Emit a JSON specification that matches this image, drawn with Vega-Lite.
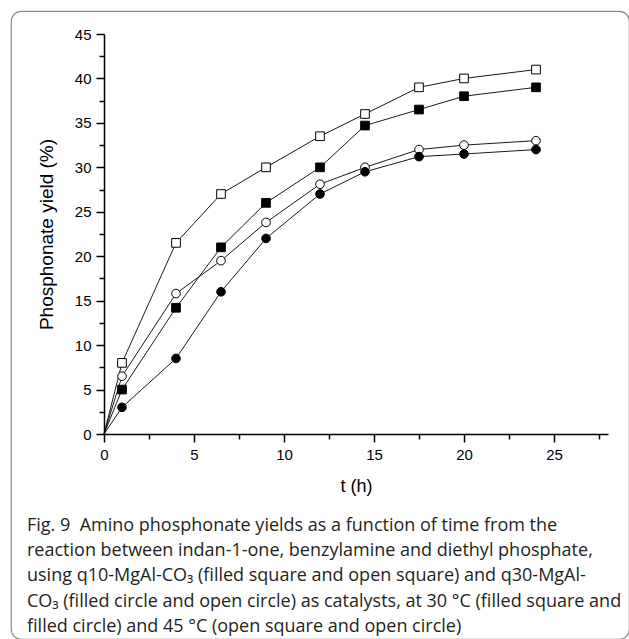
{
  "$schema": "https://vega.github.io/schema/vega-lite/v6.json",
  "autosize": "none",
  "padding": {"left": 11, "top": 11, "right": 0, "bottom": 0},
  "width": 618,
  "height": 628,
  "background": "white",
  "config": {
    "view": {"stroke": "#8c8c8c", "strokeWidth": 1.2, "cornerRadius": 10, "fill": "white"},
    "font": "Liberation Sans",
    "title": {"font": "Open Sans", "fontSize": 18, "fontWeight": "normal", "color": "#231f20", "anchor": "start", "frame": "group", "lineHeight": 25.2, "baseline": "top"}
  },
  "title": {
    "text": [
      "Fig. 9\u00a0\u00a0Amino phosphonate yields as a function of time from the",
      "reaction between indan-1-one, benzylamine and diethyl phosphate,",
      "using q10-MgAl-CO₃ (filled square and open square) and q30-MgAl-",
      "CO₃ (filled circle and open circle) as catalysts, at 30 °C (filled square and",
      "filled circle) and 45 °C (open square and open circle)"
    ],
    "orient": "bottom",
    "offset": -122,
    "dx": 16
  },
  "data": {
    "values": [
      {"t": 0, "y": 0, "s": "A"}, {"t": 1, "y": 8, "s": "A"}, {"t": 4, "y": 21.5, "s": "A"}, {"t": 6.5, "y": 27, "s": "A"}, {"t": 9, "y": 30, "s": "A"}, {"t": 12, "y": 33.5, "s": "A"}, {"t": 14.5, "y": 36, "s": "A"}, {"t": 17.5, "y": 39, "s": "A"}, {"t": 20, "y": 40, "s": "A"}, {"t": 24, "y": 41, "s": "A"},
      {"t": 0, "y": 0, "s": "B"}, {"t": 1, "y": 5, "s": "B"}, {"t": 4, "y": 14.2, "s": "B"}, {"t": 6.5, "y": 21, "s": "B"}, {"t": 9, "y": 26, "s": "B"}, {"t": 12, "y": 30, "s": "B"}, {"t": 14.5, "y": 34.7, "s": "B"}, {"t": 17.5, "y": 36.5, "s": "B"}, {"t": 20, "y": 38, "s": "B"}, {"t": 24, "y": 39, "s": "B"},
      {"t": 0, "y": 0, "s": "C"}, {"t": 1, "y": 6.5, "s": "C"}, {"t": 4, "y": 15.8, "s": "C"}, {"t": 6.5, "y": 19.5, "s": "C"}, {"t": 9, "y": 23.8, "s": "C"}, {"t": 12, "y": 28.1, "s": "C"}, {"t": 14.5, "y": 30, "s": "C"}, {"t": 17.5, "y": 32, "s": "C"}, {"t": 20, "y": 32.5, "s": "C"}, {"t": 24, "y": 33, "s": "C"},
      {"t": 0, "y": 0, "s": "D"}, {"t": 1, "y": 3, "s": "D"}, {"t": 4, "y": 8.5, "s": "D"}, {"t": 6.5, "y": 16, "s": "D"}, {"t": 9, "y": 22, "s": "D"}, {"t": 12, "y": 27, "s": "D"}, {"t": 14.5, "y": 29.5, "s": "D"}, {"t": 17.5, "y": 31.2, "s": "D"}, {"t": 20, "y": 31.5, "s": "D"}, {"t": 24, "y": 32, "s": "D"}
    ]
  },
  "encoding": {
    "x": {
      "field": "t", "type": "quantitative",
      "scale": {"domain": [0, 28], "range": [93, 597], "nice": false, "zero": false},
      "axis": {
        "orient": "bottom", "offset": -205, "grid": false,
        "values": [0, 2.5, 5, 7.5, 10, 12.5, 15, 17.5, 20, 22.5, 25, 27.5],
        "labelExpr": "datum.value % 5 === 0 ? datum.label : ''",
        "tickSize": {"condition": {"test": "datum.value % 5 === 0", "value": 8}, "value": 5},
        "tickWidth": 1.5, "tickColor": "black", "domainColor": "black", "domainWidth": 1.5,
        "labelFont": "Liberation Sans", "labelFontSize": 15, "labelColor": "black", "labelPadding": 5, "labelOverlap": false, "labelFlush": false,
        "title": "t (h)", "titleFont": "Liberation Sans", "titleFontSize": 18, "titleFontWeight": "normal", "titleColor": "black", "titlePadding": 15
      }
    },
    "y": {
      "field": "y", "type": "quantitative",
      "scale": {"domain": [0, 45], "range": [423, 23], "nice": false, "zero": false},
      "axis": {
        "orient": "left", "offset": -93, "grid": false,
        "values": [0, 2.5, 5, 7.5, 10, 12.5, 15, 17.5, 20, 22.5, 25, 27.5, 30, 32.5, 35, 37.5, 40, 42.5, 45],
        "labelExpr": "datum.value % 5 === 0 ? datum.label : ''",
        "tickSize": {"condition": {"test": "datum.value % 5 === 0", "value": 8}, "value": 5},
        "tickWidth": 1.5, "tickColor": "black", "domainColor": "black", "domainWidth": 1.5,
        "labelFont": "Liberation Sans", "labelFontSize": 15, "labelColor": "black", "labelPadding": 5, "labelOverlap": false, "labelFlush": false,
        "title": "Phosphonate yield (%)", "titleFont": "Liberation Sans", "titleFontSize": 19, "titleFontWeight": "normal", "titleColor": "black", "titlePadding": 18
      }
    }
  },
  "layer": [
    {
      "mark": {"type": "line", "color": "black", "strokeWidth": 0.9},
      "encoding": {"detail": {"field": "s"}}
    },
    {
      "transform": [{"filter": "datum.t > 0"}],
      "mark": {"type": "point", "filled": false, "stroke": "black", "strokeWidth": 1, "opacity": 1, "size": 75},
      "encoding": {
        "shape": {"field": "s", "type": "nominal", "scale": {"domain": ["A", "B", "C", "D"], "range": ["square", "square", "circle", "circle"]}, "legend": null},
        "fill": {"field": "s", "type": "nominal", "scale": {"domain": ["A", "B", "C", "D"], "range": ["white", "black", "white", "black"]}, "legend": null}
      }
    }
  ]
}
